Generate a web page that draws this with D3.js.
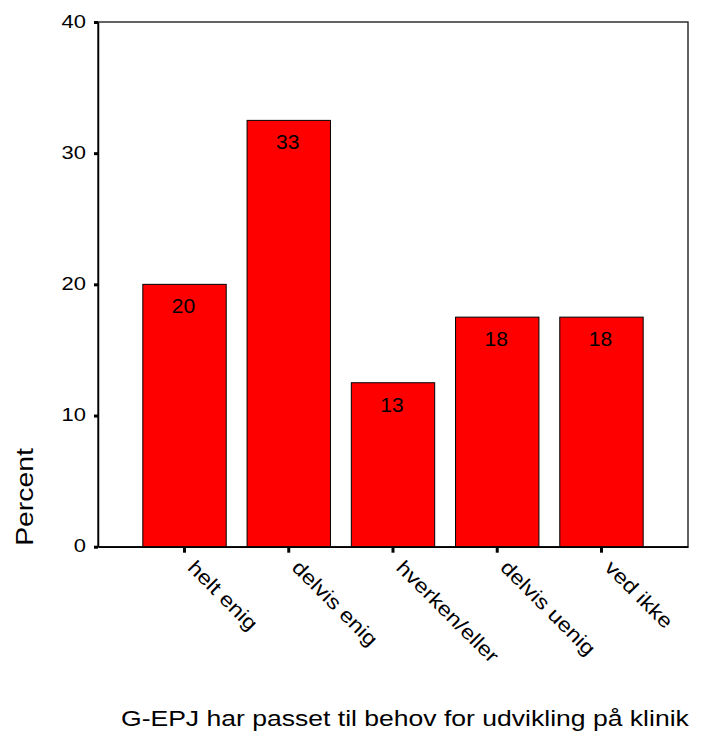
<!DOCTYPE html>
<html>
<head>
<meta charset="utf-8">
<script src="https://cdn.jsdelivr.net/npm/d3@7"></script>
<style>
  body { margin: 0; background: #fff; }
  text { font-family: Arial, "Liberation Sans", sans-serif; fill: #000; }
</style>
</head>
<body>
<div id="chart"></div>
<script>
var categories = ["helt enig", "delvis enig", "hverken/eller", "delvis uenig", "ved ikke"];
var values = [20.0, 32.5, 12.5, 17.5, 17.5];
var labels = ["20", "33", "13", "18", "18"];
var yTicks = [0, 10, 20, 30, 40];
var xTitle = "G-EPJ har passet til behov for udvikling på klinik";
var yTitle = "Percent";

/* Sizing and scales. */
var w = 717, h = 731,
    pLeft = 98, pRight = 688, pTop = 22, pBottom = 546.7,
    sx = 1.18; // text in the original is drawn a bit wide

var x = d3.scaleBand(categories, [pLeft, pRight])
      .paddingInner(0.2)
      .paddingOuter(0.43);
var y = d3.scaleLinear([0, 40], [pBottom, pTop]);

var vis = d3.select("#chart").append("svg")
      .attr("width", w)
      .attr("height", h);

/* Frame. */
vis.append("rect")
  .attr("x", pLeft).attr("y", pTop)
  .attr("width", pRight - pLeft).attr("height", pBottom - pTop)
  .attr("fill", "none")
  .attr("stroke", "#222")
  .attr("stroke-width", 1.4);

/* Bars. */
vis.selectAll("rect.bar")
  .data(values)
  .enter().append("rect")
  .attr("class", "bar")
  .attr("x", (d, i) => x(categories[i]))
  .attr("y", (d) => y(d))
  .attr("width", x.bandwidth())
  .attr("height", (d) => y(0) - y(d))
  .attr("fill", "#ff0000")
  .attr("stroke", "#000")
  .attr("stroke-width", 1);

vis.selectAll("text.val")
  .data(values)
  .enter().append("text")
  .attr("class", "val")
  .attr("x", (d, i) => x(categories[i]) + x.bandwidth() / 2 - 1)
  .attr("y", (d) => y(d) + 29)
  .attr("text-anchor", "middle")
  .style("font-size", "21px")
  .text((d, i) => labels[i]);

/* Y axis. */
var yAxis = vis.append("g")
  .attr("transform", "translate(" + pLeft + ",0)")
  .call(d3.axisLeft(y).tickValues(yTicks).tickSize(4).tickSizeOuter(0).tickPadding(8));
yAxis.select(".domain").attr("stroke", "#000").attr("stroke-width", 1.5);
yAxis.selectAll(".tick line").attr("stroke", "#000").attr("stroke-width", 3);
yAxis.selectAll(".tick text")
  .attr("x", -12 / sx)
  .attr("dy", null)
  .attr("y", 5)
  .attr("transform", "scale(" + sx + ",1)")
  .style("font-size", "18.6px")
  .style("font-family", "Arial, 'Liberation Sans', sans-serif");

/* X axis. */
var xAxis = vis.append("g")
  .attr("transform", "translate(0," + pBottom + ")")
  .call(d3.axisBottom(x).tickSize(6).tickSizeOuter(0).tickFormat(""));
xAxis.select(".domain").attr("stroke", "#000").attr("stroke-width", 1.5);
xAxis.selectAll(".tick line").attr("stroke", "#000").attr("stroke-width", 3);

vis.selectAll("text.cat")
  .data(categories)
  .enter().append("text")
  .attr("class", "cat")
  .attr("transform", (d) => "translate(" + (x(d) + x.bandwidth() / 2 + 2) + "," + (pBottom + 22) + ") rotate(45) scale(" + sx + ",1)")
  .style("font-size", "20px")
  .text((d) => d);

/* Axis titles. */
vis.append("text")
  .attr("transform", "translate(121,726) scale(" + sx + ",1)")
  .style("font-size", "22.5px")
  .text(xTitle);

vis.append("text")
  .attr("transform", "translate(33,497) rotate(-90) scale(" + sx + ",1)")
  .attr("text-anchor", "middle")
  .style("font-size", "24px")
  .text(yTitle);
</script>
</body>
</html>
